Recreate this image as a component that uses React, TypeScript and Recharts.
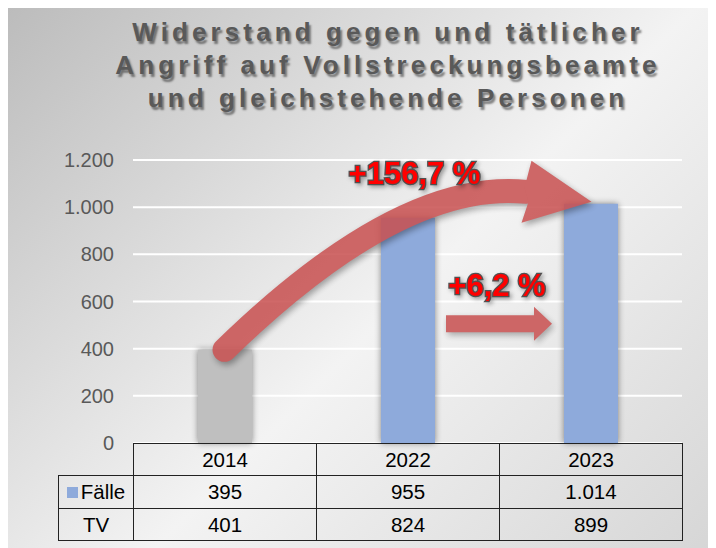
import { BarChart, Bar, Cell, XAxis, YAxis, CartesianGrid, ReferenceLine } from "recharts";

const years = ["2014", "2022", "2023"];
const faelle = [395, 955, 1014];
const tv = [401, 824, 899];
const barColors = ["#bfbfbf", "#8eaadb", "#8eaadb"];
const yTicks = [0, 200, 400, 600, 800, 1000, 1200];
const titleLines = [
  "Widerstand gegen und tätlicher",
  "Angriff auf Vollstreckungsbeamte",
  "und gleichstehende Personen",
];
const growthLabels = ["+156,7 %", "+6,2 %"];
// Höhe des geraden Pfeils zwischen 2022 und 2023 (in Achsenwerten)
const flatArrowLevel = 506;

const fmt = (v: number) => v.toLocaleString("de-DE");

const data = years.map((year, i) => ({ year, faelle: faelle[i], tv: tv[i] }));

const FONT = "'Liberation Sans', Arial, sans-serif";
const ARROW_RED = "#c84f4f";

const labelStyle = {
  fontFamily: FONT,
  fontSize: 31,
  fontWeight: 700,
  fill: "#ff0000",
  stroke: "#505050",
  strokeWidth: 2.5,
  paintOrder: "stroke" as const,
  filter: "drop-shadow(2px 2px 2px rgba(0,0,0,0.35))",
};

function CurvedArrow(props: any) {
  const { x1, y1, x2, y2 } = props;
  const tx = x2 + 1;
  const ty = y2 - 2;
  const bx = tx - 65;
  const by = ty - 10;
  const cx = x1 + 0.48 * (x2 - x1);
  const cy = y2 - 25;
  return (
    <g>
      <g opacity={0.85} style={{ filter: "drop-shadow(2px 3px 3px rgba(0,0,0,0.4))" }}>
        <path
          d={`M${x1},${y1} Q${cx},${cy} ${bx},${by}`}
          fill="none"
          stroke={ARROW_RED}
          strokeWidth={24}
          strokeLinecap="round"
        />
        <polygon
          points={`${tx},${ty} ${tx - 60},${ty - 41} ${bx - 2},${by - 4} ${bx + 2},${by + 10} ${tx - 70},${ty + 21}`}
          fill={ARROW_RED}
        />
      </g>
      <text x={x2 - 176} y={y2 - 20} textAnchor="middle" style={labelStyle}>
        {growthLabels[0]}
      </text>
    </g>
  );
}

function FlatArrow(props: any) {
  const { x1, y1, x2 } = props;
  const sx = x1 + 38.5;
  const ex = x2 - 38.5;
  const hx = x2 - 56.5;
  const mid = (x1 + x2) / 2;
  return (
    <g>
      <polygon
        points={`${sx},${y1 - 8.5} ${hx},${y1 - 8.5} ${hx},${y1 - 17} ${ex},${y1} ${hx},${y1 + 17} ${hx},${y1 + 8.5} ${sx},${y1 + 8.5}`}
        fill={ARROW_RED}
        opacity={0.85}
        style={{ filter: "drop-shadow(2px 3px 3px rgba(0,0,0,0.35))" }}
      />
      <text x={mid - 2} y={y1 - 28} textAnchor="middle" style={labelStyle}>
        {growthLabels[1]}
      </text>
    </g>
  );
}

const cell: React.CSSProperties = {
  border: "1.5px solid #222",
  textAlign: "center",
  padding: 0,
  height: 31,
  fontSize: 20.5,
  color: "#000",
};

export default function App() {
  return (
    <div
      style={{
        position: "relative",
        width: 708,
        height: 540,
        background: "linear-gradient(135deg, #bcbcbc 0%, #f3f3f3 55%, #d6d6d6 100%)",
        fontFamily: FONT,
        overflow: "hidden",
      }}
    >
      <div
        style={{
          position: "absolute",
          top: 8,
          left: 0,
          width: 708,
          paddingLeft: 52,
          boxSizing: "border-box",
          textAlign: "center",
          fontSize: 26,
          fontWeight: 700,
          lineHeight: "33px",
          letterSpacing: 4.1,
          color: "#595959",
          textShadow: "2px 3px 2px rgba(0,0,0,0.45)",
        }}
      >
        {titleLines.map((t) => (
          <div key={t}>{t}</div>
        ))}
      </div>

      <div style={{ position: "absolute", top: 0, left: 0 }}>
        <BarChart width={708} height={470} data={data} margin={{ top: 152, right: 34, bottom: 35, left: 0 }}>
          <CartesianGrid vertical={false} stroke="#ffffff" strokeWidth={2} />
          <XAxis dataKey="year" hide />
          <YAxis
            width={125}
            domain={[0, 1200]}
            ticks={yTicks}
            axisLine={false}
            tickLine={false}
            tickSize={0}
            tickMargin={19}
            tickFormatter={fmt}
            tick={{ fill: "#595959", fontSize: 20, fontFamily: FONT }}
          />
          <Bar dataKey="faelle" barSize={54} isAnimationActive={false}>
            {data.map((d, i) => (
              <Cell
                key={d.year}
                fill={barColors[i]}
                style={{ filter: "drop-shadow(0px 0px 3px rgba(0,0,0,0.45))" }}
              />
            ))}
          </Bar>
          <ReferenceLine
            segment={[
              { x: years[0], y: faelle[0] },
              { x: years[2], y: faelle[2] },
            ]}
            shape={CurvedArrow}
          />
          <ReferenceLine
            segment={[
              { x: years[1], y: flatArrowLevel },
              { x: years[2], y: flatArrowLevel },
            ]}
            shape={FlatArrow}
          />
        </BarChart>
      </div>

      <table
        style={{
          position: "absolute",
          top: 435,
          left: 50,
          borderCollapse: "collapse",
          tableLayout: "fixed",
          width: 624,
          fontFamily: FONT,
        }}
      >
        <colgroup>
          <col style={{ width: 75 }} />
          <col style={{ width: 183 }} />
          <col style={{ width: 183 }} />
          <col style={{ width: 183 }} />
        </colgroup>
        <tbody>
          <tr>
            <td style={{ ...cell, border: "none" }} />
            {years.map((y) => (
              <td key={y} style={cell}>
                {y}
              </td>
            ))}
          </tr>
          <tr>
            <td style={{ ...cell, height: 32 }}>
              <span
                style={{
                  display: "inline-block",
                  width: 11,
                  height: 11,
                  background: barColors[1],
                  marginRight: 3,
                  verticalAlign: "middle",
                  marginTop: -2,
                }}
              />
              Fälle
            </td>
            {faelle.map((v, i) => (
              <td key={years[i]} style={{ ...cell, height: 32 }}>
                {fmt(v)}
              </td>
            ))}
          </tr>
          <tr>
            <td style={{ ...cell, height: 31 }}>TV</td>
            {tv.map((v, i) => (
              <td key={years[i]} style={{ ...cell, height: 31 }}>
                {fmt(v)}
              </td>
            ))}
          </tr>
        </tbody>
      </table>
    </div>
  );
}
